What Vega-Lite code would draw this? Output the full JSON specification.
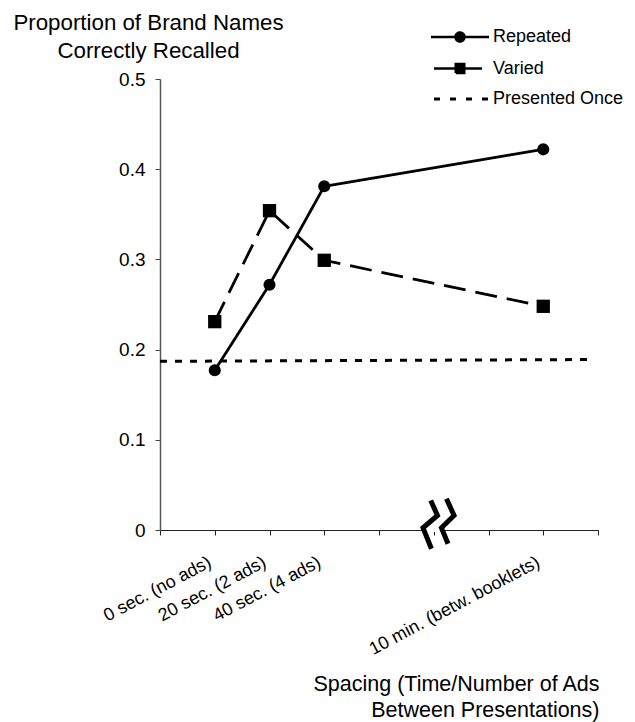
{
  "$schema": "https://vega.github.io/schema/vega-lite/v6.json",
  "width": 438,
  "height": 451,
  "autosize": {"type": "none"},
  "padding": {"left": 160, "top": 79, "right": 37, "bottom": 192},
  "background": "white",
  "config": {
    "view": {"stroke": null},
    "font": "Liberation Sans",
    "axis": {"grid": false, "labelFont": "Liberation Sans", "titleFont": "Liberation Sans", "labelColor": "black", "titleColor": "black", "titleFontWeight": "normal"}
  },
  "datasets": {
    "lines": [
      {"series": "Repeated", "x": 1, "y": 0.177},
      {"series": "Repeated", "x": 2, "y": 0.272},
      {"series": "Repeated", "x": 3, "y": 0.381},
      {"series": "Repeated", "x": 7, "y": 0.422},
      {"series": "Varied", "x": 1, "y": 0.231},
      {"series": "Varied", "x": 2, "y": 0.354},
      {"series": "Varied", "x": 3, "y": 0.299},
      {"series": "Varied", "x": 7, "y": 0.248},
      {"series": "Presented Once", "x": 0, "y": 0.187},
      {"series": "Presented Once", "x": 7.89, "y": 0.189}
    ],
    "gap": [
      {"x": 4.86, "y": 0},
      {"x": 5.16, "y": 0}
    ],
    "break": [
      {"stroke": "a", "i": 0, "x": 4.945, "y": 0.0327},
      {"stroke": "a", "i": 1, "x": 5.068, "y": 0.0161},
      {"stroke": "a", "i": 2, "x": 4.804, "y": 0.0024},
      {"stroke": "a", "i": 3, "x": 4.958, "y": -0.0208},
      {"stroke": "b", "i": 0, "x": 5.232, "y": 0.0346},
      {"stroke": "b", "i": 1, "x": 5.371, "y": 0.0161},
      {"stroke": "b", "i": 2, "x": 5.141, "y": 0.0024},
      {"stroke": "b", "i": 3, "x": 5.261, "y": -0.0153}
    ]
  },
  "layer": [
    {
      "data": {"name": "lines"},
      "transform": [{"filter": "datum.series === 'Presented Once'"}],
      "mark": {"type": "line", "strokeWidth": 3, "strokeDash": [7, 8], "strokeCap": "butt"},
      "encoding": {
        "x": {
          "field": "x", "type": "quantitative",
          "scale": {"domain": [0, 8], "nice": false, "zero": false},
          "axis": {
            "values": [0, 1, 2, 3, 4, 5, 6, 7, 8],
            "labelExpr": "datum.value == 1 ? '0 sec. (no ads)' : datum.value == 2 ? '20 sec. (2 ads)' : datum.value == 3 ? '40 sec. (4 ads)' : datum.value == 7 ? '10 min. (betw. booklets)' : ''",
            "labelAngle": -28,
            "labelAlign": "right",
            "labelBaseline": "middle",
            "labelPadding": 26,
            "labelOffset": -5,
            "labelFontSize": 18,
            "labelLimit": 400,
            "labelOverlap": false,
            "labelFlush": false,
            "labelBound": false,
            "tickSize": 5,
            "tickColor": "#222",
            "domainColor": "#222",
            "domainWidth": 1,
            "tickWidth": 1,
            "title": ["Spacing (Time/Number of Ads", "Between Presentations)"],
            "titleFontSize": 21.5,
            "titleAlign": "right",
            "titleAnchor": "end",
            "titleBaseline": "alphabetic",
            "titleX": 439,
            "titleY": 160,
            "titleLineHeight": 26
          }
        },
        "y": {
          "field": "y", "type": "quantitative",
          "scale": {"domain": [0, 0.5], "nice": false, "zero": false},
          "axis": {
            "values": [0, 0.1, 0.2, 0.3, 0.4, 0.5],
            "format": "~g",
            "labelFontSize": 19,
            "labelPadding": 10,
            "tickSize": 5,
            "tickColor": "#444",
            "domainColor": "#555",
            "domainWidth": 1.5,
            "tickWidth": 1,
            "title": ["Proportion of Brand Names", "Correctly Recalled"],
            "titleFontSize": 22.3,
            "titleAngle": 0,
            "titleAlign": "center",
            "titleAnchor": "start",
            "titleBaseline": "alphabetic",
            "titleX": -12,
            "titleY": -50,
            "titleLineHeight": 28
          }
        },
        "color": {
          "field": "series", "type": "nominal",
          "scale": {"domain": ["Repeated", "Varied", "Presented Once"], "range": ["black", "black", "black"]},
          "legend": {
            "orient": "none",
            "legendX": 291,
            "legendY": -51,
            "title": null,
            "padding": 0,
            "symbolSize": 100,
            "labelOffset": 24,
            "labelFontSize": 18,
            "labelFont": "Liberation Sans",
            "labelColor": "black",
            "rowPadding": 11.5,
            "encode": {
              "symbols": {
                "update": {
                  "shape": {"signal": "datum.value === 'Repeated' ? 'M-5.8,0H5.8M-0.9,0A0.9,0.9,0,1,1,0.9,0A0.9,0.9,0,1,1,-0.9,0Z' : datum.value === 'Varied' ? 'M-5.2,0H4.4M-0.85,-0.9H0.85V0.9H-0.85Z' : 'M-5.2,0H-4M-2,0H-0.8M1.2,0H2.4M4.4,0H5.6'"},
                  "fill": {"value": "black"},
                  "stroke": {"value": "black"},
                  "strokeWidth": {"signal": "datum.value === 'Presented Once' ? 3 : 2.5"},
                  "strokeDash": {"value": [1, 0]},
                  "opacity": {"value": 1}
                }
              }
            }
          }
        }
      }
    },
    {
      "data": {"name": "lines"},
      "transform": [{"filter": "datum.series !== 'Presented Once'"}],
      "mark": {"type": "line", "strokeWidth": 2.8, "strokeCap": "butt"},
      "encoding": {
        "x": {"field": "x", "type": "quantitative"},
        "y": {"field": "y", "type": "quantitative"},
        "color": {"field": "series", "type": "nominal"},
        "strokeDash": {
          "field": "series", "type": "nominal",
          "scale": {"domain": ["Repeated", "Varied"], "range": [[1, 0], [22, 10]]},
          "legend": null
        }
      }
    },
    {
      "data": {"name": "lines"},
      "transform": [{"filter": "datum.series !== 'Presented Once'"}],
      "mark": {"type": "point", "filled": true, "opacity": 1},
      "encoding": {
        "x": {"field": "x", "type": "quantitative"},
        "y": {"field": "y", "type": "quantitative"},
        "color": {"field": "series", "type": "nominal"},
        "shape": {
          "field": "series", "type": "nominal",
          "scale": {"domain": ["Repeated", "Varied"], "range": ["circle", "square"]},
          "legend": null
        },
        "size": {
          "field": "series", "type": "nominal",
          "scale": {"domain": ["Repeated", "Varied"], "range": [145, 177]},
          "legend": null
        }
      }
    },
    {
      "data": {"name": "gap"},
      "mark": {"type": "line", "color": "white", "strokeWidth": 4},
      "encoding": {
        "x": {"field": "x", "type": "quantitative"},
        "y": {"field": "y", "type": "quantitative"}
      }
    },
    {
      "data": {"name": "break"},
      "mark": {"type": "line", "color": "black", "strokeWidth": 5, "strokeCap": "butt", "strokeJoin": "miter"},
      "encoding": {
        "x": {"field": "x", "type": "quantitative"},
        "y": {"field": "y", "type": "quantitative"},
        "detail": {"field": "stroke", "type": "nominal"},
        "order": {"field": "i", "type": "quantitative"}
      }
    }
  ]
}
